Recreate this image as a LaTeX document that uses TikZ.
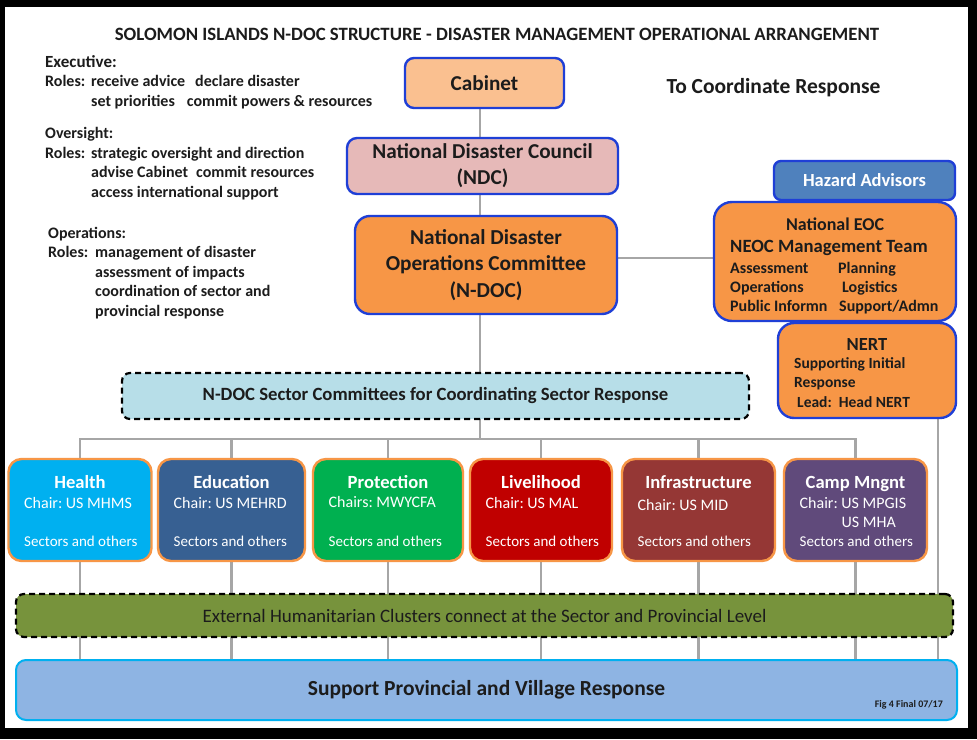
\documentclass[tikz,border=0pt]{standalone}
\usepackage{fontspec}
\setmainfont{Carlito}
\usetikzlibrary{positioning}
\pgfdeclarelayer{frame}
\pgfdeclarelayer{wires}
\pgfsetlayers{frame,wires,main}
\definecolor{inkblack}{HTML}{1C1C1C}
\definecolor{edgeblue}{HTML}{1F3FD6}
\definecolor{cabinetfill}{HTML}{FAC090}
\definecolor{ndcfill}{HTML}{E6B9B8}
\definecolor{ndocfill}{HTML}{F79646}
\definecolor{hazardfill}{HTML}{4F81BD}
\definecolor{committeefill}{HTML}{B7DEE8}
\definecolor{sectoredge}{HTML}{F79646}
\definecolor{healthfill}{HTML}{00B0F0}
\definecolor{educationfill}{HTML}{376092}
\definecolor{protectionfill}{HTML}{00B050}
\definecolor{livelihoodfill}{HTML}{C00000}
\definecolor{infrafill}{HTML}{953735}
\definecolor{campfill}{HTML}{604A7B}
\definecolor{clusterfill}{HTML}{77933C}
\definecolor{supportfill}{HTML}{8EB4E3}
\definecolor{supportedge}{HTML}{00B0F0}
\definecolor{wiregray}{HTML}{A6A6A6}
\newcommand{\setfs}[2]{\fontsize{#1}{#2}\selectfont}

\begin{document}
\frenchspacing
\begin{tikzpicture}[x=1pt, y=-1pt, text=inkblack,
    every node/.style = {inner sep=0pt},
    box/.style = {draw=edgeblue, line width=2.4pt, rounded corners=9pt, align=center},
    sector/.style = {draw=sectoredge, line width=2.4pt, rounded corners=13pt, minimum height=102pt},
    dashbar/.style = {draw=black, dash pattern=on 6pt off 4pt, line width=2.2pt, rounded corners=8pt},
    wire/.style = {draw=wiregray, line width=2.6pt},
    roles/.style = {anchor=base west, align=left, font=\bfseries\setfs{16}{19.5}}]
\useasboundingbox (0,0) rectangle (977,739);
\begin{pgfonlayer}{frame}
    \fill[black] (0,0) rectangle (977,739);
    \fill[white] (5,7) rectangle (968,728);
\end{pgfonlayer}

% heading and roles (multi-line nodes sit on their last baseline)
\node[anchor=base, font=\bfseries\setfs{18.8}{22}] (title) at (497,40)
    {SOLOMON ISLANDS N-DOC STRUCTURE - DISASTER MANAGEMENT OPERATIONAL ARRANGEMENT};
\node[roles] (executive) at (45,106)
    {{\setfs{17}{19.5}Executive:}\\
     \makebox[46pt][l]{Roles:}receive advice\hspace{10pt}declare disaster\\
     \hspace*{46pt}set priorities\hspace{12pt}commit powers \& resources};
\node[roles] (oversight) at (45,197)
    {Oversight:\\
     \makebox[46pt][l]{Roles:}strategic oversight and direction\\
     \hspace*{46pt}advise Cabinet\hspace{8pt}commit resources\\
     \hspace*{46pt}access international support};
\node[roles] (operations) at (48,316)
    {Operations:\\
     \makebox[47pt][l]{Roles:}management of disaster\\
     \hspace*{47pt}assessment of impacts\\
     \hspace*{47pt}coordination of sector and\\
     \hspace*{47pt}provincial response};
\node[anchor=base, font=\bfseries\setfs{21.5}{24}] (coordinate) at (773.5,93) {To Coordinate Response};

% national level
\node[box, fill=cabinetfill, minimum width=159pt, minimum height=50pt,
    font=\bfseries\setfs{21.2}{26}] (cabinet) at (484.5,83) {Cabinet};
\node[box, fill=ndcfill, minimum width=271pt, minimum height=56pt, rounded corners=10pt,
    font=\bfseries\setfs{21.2}{26}] (ndc) at (482.5,166) {National Disaster Council\\(NDC)};
\node[box, fill=ndocfill, minimum width=262pt, minimum height=98pt, rounded corners=15pt,
    font=\bfseries\setfs{21.3}{26.5}] (ndoc) at (486,265) {National Disaster\\Operations Committee\\(N-DOC)};

% emergency operations centre
\node[box, fill=hazardfill, text=white, minimum width=181pt, minimum height=39pt, rounded corners=7pt,
    font=\bfseries\setfs{18.5}{20}] (hazard) at (864.5,180.5) {Hazard Advisors};
\node[box, fill=ndocfill, minimum width=242pt, minimum height=119pt, rounded corners=18pt] (neoc) at (835,261.5) {};
\node[anchor=base, font=\bfseries\setfs{18}{20}] (neoc-name) at (835,230) {National EOC};
\node[anchor=base west, font=\bfseries\setfs{18.7}{22}] (neoc-team) at (730,252) {NEOC Management Team};
\node[anchor=base west, align=left, font=\bfseries\setfs{16}{19}] (neoc-left) at (730,311)
    {Assessment\\Operations\\Public Informn};
\node[anchor=base west, align=left, font=\bfseries\setfs{16}{19}] (neoc-right) at (838,311)
    {Planning\\\hspace*{4pt}Logistics\\\hspace*{1pt}Support/Admn};
\node[box, fill=ndocfill, minimum width=178pt, minimum height=95pt, rounded corners=16pt] (nert) at (867,370.5) {};
\node[anchor=base, font=\bfseries\setfs{18.5}{20}] (nert-name) at (867,350) {NERT};
\node[anchor=base west, align=left, font=\bfseries\setfs{15.5}{19.5}] (nert-role) at (794,407)
    {Supporting Initial\\Response\\\hspace*{3pt}Lead:\ \ Head NERT};

% sectors
\node[dashbar, fill=committeefill, minimum width=627pt, minimum height=46pt,
    font=\bfseries\setfs{18.7}{20}] (committee) at (435.5,396) {N-DOC Sector Committees for Coordinating Sector Response};
\foreach \nm/\cx/\bw/\fillc/\ttl/\cy/\chr in {
    health/80/143/healthfill/Health/508/{Chair: US MHMS},
    education/231.5/147/educationfill/Education/508/{Chair: US MEHRD},
    protection/388/150/protectionfill/Protection/507/{Chairs: MWYCFA},
    livelihood/541/142/livelihoodfill/Livelihood/508/{Chair: US MAL},
    infrastructure/698.5/153/infrafill/Infrastructure/510/{Chair: US MID},
    camp/855.5/143/campfill/Camp Mngnt/527/{Chair: US MPGIS\\\hspace*{42pt}US MHA}}
{
    \node[sector, fill=\fillc, minimum width=\bw pt] (\nm) at (\cx,510) {};
    \node[anchor=base, text=white, font=\bfseries\setfs{18.6}{20}] (\nm-title) at (\cx,488) {\ttl};
    \node[anchor=base west, align=left, text=white, font=\mdseries\setfs{16}{19}] (\nm-chair) at ({\cx-\bw/2+15.5},\cy) {\chr};
    \node[anchor=base west, text=white, font=\mdseries\setfs{15}{18}] (\nm-others) at ({\cx-\bw/2+15.5},546) {Sectors and others};
}

% provincial level
\node[dashbar, fill=clusterfill, minimum width=937pt, minimum height=43pt,
    font=\mdseries\setfs{19}{20}] (clusters) at (484.5,615.5)
    {External Humanitarian Clusters connect at the Sector and Provincial Level};
\node[draw=supportedge, line width=2pt, rounded corners=10pt, fill=supportfill, minimum width=941pt, minimum height=60pt,
    font=\bfseries\setfs{21.5}{22}] (support) at (486.5,690) {Support Provincial and Village Response};
\node[anchor=base east, font=\bfseries\setfs{10}{10}] (figno) at (943,707) {Fig 4 Final 07/17};

% connectors
\begin{pgfonlayer}{wires}
    \draw[wire] (health.north) -- ++(0,-19) coordinate (bus) -| (camp.north);
    \draw[wire] ([xshift=-4.5pt]cabinet.south) -- ([xshift=-4.5pt]cabinet.south |- bus);
    \foreach \nm in {education,protection,livelihood,infrastructure}
        \draw[wire] (\nm.north) -- (\nm.north |- bus);
    \foreach \nm in {health,education,protection,livelihood,infrastructure,camp}
        \draw[wire] (\nm.south) -- (\nm.south |- support.north);
    \draw[wire] ([yshift=7pt]ndoc.east) -- ([yshift=7pt]ndoc.east -| neoc.west);
    \draw[wire] ([xshift=71pt]nert.south) -- ([xshift=71pt]nert.south |- support.north);
\end{pgfonlayer}
\end{tikzpicture}
\end{document}
